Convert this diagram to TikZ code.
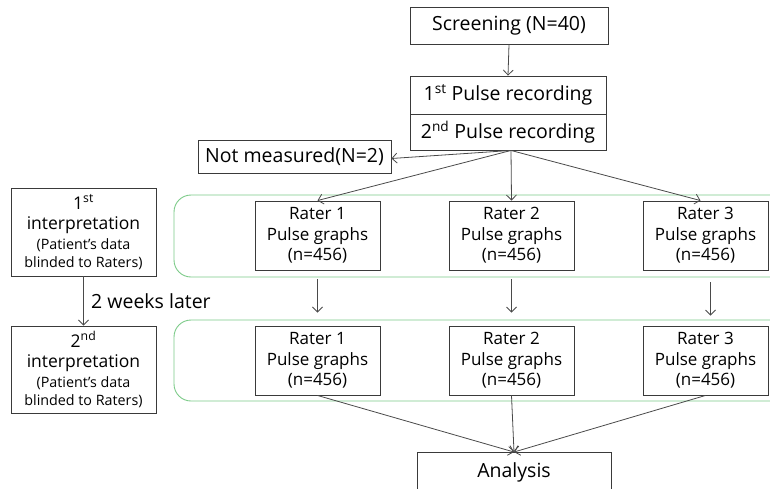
\documentclass[tikz,border=0pt]{standalone}
\usepackage{fontspec}
\setmainfont{Open Sans}
\usetikzlibrary{arrows.meta,calc}
\definecolor{boxline}{HTML}{3A3A3A}
\definecolor{arrowc}{HTML}{4A4A4A}
\definecolor{grn}{HTML}{7CCB88}
\newcommand{\bigfs}{\fontsize{17.5}{18}\selectfont}
\newcommand{\smallfs}{\fontsize{14.3}{18}\selectfont}
\tikzset{
  box/.style={draw=boxline, line width=0.9pt, rectangle, inner sep=0pt, align=center, text=black},
  bigtxt/.style={font=\fontsize{19.5}{22}\selectfont},
  ratertxt/.style={font=\fontsize{17}{20.5}\selectfont},
  rater/.style={box, ratertxt, minimum width=125pt, minimum height=69pt},
  grp/.style={draw=grn, line width=0.9pt, rounded corners=17pt},
  arr/.style={draw=arrowc, line width=0.8pt, -{Straight Barb[length=5pt,width=10pt]}},
}
\begin{document}
\begin{tikzpicture}[x=1pt,y=-1pt]
\clip (0,0) rectangle (770,488);
\fill[white] (0,0) rectangle (770,488);
% green groups
\draw[grp] (174,195) rectangle (800,277);
\draw[grp] (174,320) rectangle (800,401);
% top chain
\node[box,bigtxt,minimum width=198pt,minimum height=37pt] (scr) at (509,25.5) {Screening (N=40)};
\node[box,bigtxt,minimum width=196pt,minimum height=38pt] (pr1) at (508,95) {1\textsuperscript{st} Pulse recording};
\node[box,bigtxt,minimum width=196pt,minimum height=36pt] (pr2) at (508,132) {2\textsuperscript{nd} Pulse recording};
\node[box,bigtxt,minimum width=193pt,minimum height=33pt] (nm) at (294.5,156.5) {Not measured(N=2)};
% raters row 1
\node[rater] (r1a) at (317.5,235.5) {Rater 1\\Pulse graphs\\(n=456)};
\node[rater] (r2a) at (511.5,235.5) {Rater 2\\Pulse graphs\\(n=456)};
\node[rater] (r3a) at (705.5,235.5) {Rater 3\\Pulse graphs\\(n=456)};
% raters row 2
\node[rater] (r1b) at (317.5,360.5) {Rater 1\\Pulse graphs\\(n=456)};
\node[rater] (r2b) at (511.5,360.5) {Rater 2\\Pulse graphs\\(n=456)};
\node[rater] (r3b) at (705.5,360.5) {Rater 3\\Pulse graphs\\(n=456)};
% analysis
\node[box,minimum width=194pt,minimum height=48pt,anchor=north] (an) at (514,452) {};
\node[bigtxt,anchor=base] (antxt) at (514,477) {Analysis};
% left boxes
\node[box,font=\smallfs,minimum width=145pt,minimum height=88pt] (i1) at (83.5,232) {\bigfs 1\textsuperscript{st}\\[2pt]\bigfs interpretation\\[2pt]\smallfs (Patient’s data\\\smallfs blinded to Raters)};
\node[box,font=\smallfs,minimum width=145pt,minimum height=87pt] (i2) at (83.5,369.5) {\bigfs 2\textsuperscript{nd}\\[2pt]\bigfs interpretation\\[2pt]\smallfs (Patient’s data\\\smallfs blinded to Raters)};
% arrows
\draw[arr] (scr.south) -- (pr1.north);
\draw[arr] ([xshift=3pt]pr2.south) -- ([yshift=-2pt]nm.east);
\draw[arr] ([xshift=3pt]pr2.south) -- (r1a.north);
\draw[arr] ([xshift=3pt]pr2.south) -- (r2a.north);
\draw[arr] ([xshift=3pt]pr2.south) -- ([xshift=-5pt]r3a.north);
\draw[arr] ([yshift=-9pt]r1a.south) -- ([yshift=13pt]r1b.north);
\draw[arr] ([yshift=-9pt]r2a.south) -- ([yshift=13pt]r2b.north);
\draw[arr] ([xshift=5pt,yshift=-12pt]r3a.south) -- ([xshift=5pt,yshift=10pt]r3b.north);
\draw[arr] (r1b.south) -- (an.north);
\draw[arr] (r2b.south) -- (an.north);
\draw[arr] (r3b.south) -- (an.north);
\draw[arr] (i1.south) -- node[right=4pt,bigtxt,text=black] {2 weeks later} (i2.north);
\end{tikzpicture}
\end{document}
